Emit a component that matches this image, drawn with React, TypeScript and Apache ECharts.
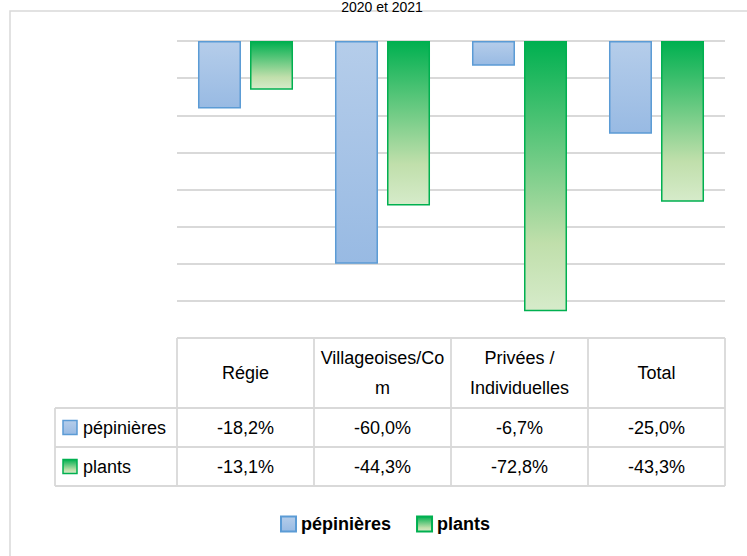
import React, { useEffect, useRef } from "react";
import * as echarts from "echarts";

const categories = ["Régie", "Villageoises/Co\nm", "Privées /\nIndividuelles", "Total"];
const seriesNames = ["pépinières", "plants"];
const pepinieres = [-18.2, -60.0, -6.7, -25.0];
const plants = [-13.1, -44.3, -72.8, -43.3];
const titleText = "2020 et 2021";

const FONT = "'Liberation Sans', Arial, sans-serif";

const GRID_L = 177;
const GRID_R = 725;
const GRID_T = 41;
const TABLE_T = 338;
const ROW1_T = 408;
const ROW2_T = 447;
const TABLE_B = 486;
const LABEL_L = 55;
const LINE = "#d9d9d9";

const blueFill = new echarts.graphic.LinearGradient(0, 0, 0, 1, [
  { offset: 0, color: "#b5cdea" },
  { offset: 1, color: "#98bae3" },
]);
const greenFill = new echarts.graphic.LinearGradient(0, 0, 0, 1, [
  { offset: 0, color: "#00b050" },
  { offset: 0.75, color: "#c0dfab" },
  { offset: 1, color: "#d6ebca" },
]);

const fmt = (v: number) => v.toFixed(1).replace(".", ",") + "%";

export default function App() {
  const ref = useRef<HTMLDivElement>(null);
  useEffect(() => {
    if (!ref.current) return;
    const chart = echarts.init(ref.current, undefined, { renderer: "svg" });
    const colW = (GRID_R - GRID_L) / categories.length;
    const graphics: any[] = [];
    graphics.push({
      type: "rect",
      shape: { x: 10, y: 11, width: 800, height: 600 },
      style: { fill: "none", stroke: LINE, lineWidth: 1.5 },
      silent: true,
    });
    graphics.push({
      type: "text",
      x: 382,
      y: 0,
      style: { text: titleText, fill: "#000", fontSize: 14, fontFamily: FONT, align: "center", verticalAlign: "top" },
    });
    const hl = (x1: number, x2: number, y: number) => ({
      type: "line",
      shape: { x1, y1: y, x2, y2: y },
      style: { stroke: LINE, lineWidth: 1.8 },
      silent: true,
    });
    const vl = (x: number, y1: number, y2: number) => ({
      type: "line",
      shape: { x1: x, y1, x2: x, y2 },
      style: { stroke: LINE, lineWidth: 1.8 },
      silent: true,
    });
    graphics.push(hl(GRID_L, GRID_R, TABLE_T));
    graphics.push(hl(LABEL_L, GRID_R, ROW1_T));
    graphics.push(hl(LABEL_L, GRID_R, ROW2_T));
    graphics.push(hl(LABEL_L, GRID_R, TABLE_B));
    graphics.push(vl(LABEL_L, ROW1_T, TABLE_B));
    for (let i = 0; i <= categories.length; i++) {
      graphics.push(vl(GRID_L + colW * i, TABLE_T, TABLE_B));
    }
    const rows = [pepinieres, plants];
    const fills = [blueFill, greenFill];
    const borders = ["#5b9bd5", "#00b050"];
    const rowTops = [ROW1_T, ROW2_T];
    rows.forEach((vals, r) => {
      const cy = (rowTops[r] + (r === 0 ? ROW2_T : TABLE_B)) / 2;
      graphics.push({
        type: "rect",
        shape: { x: 63, y: cy - 7, width: 14, height: 14 },
        style: { fill: fills[r], stroke: borders[r], lineWidth: 1.5 },
      });
      graphics.push({
        type: "text",
        x: 83,
        y: cy,
        style: { text: seriesNames[r], fill: "#000", fontSize: 18, fontFamily: FONT, align: "left", verticalAlign: "middle" },
      });
      vals.forEach((v, i) => {
        graphics.push({
          type: "text",
          x: GRID_L + colW * (i + 0.5),
          y: cy,
          style: { text: fmt(v), fill: "#000", fontSize: 18, fontFamily: FONT, align: "center", verticalAlign: "middle" },
        });
      });
    });

    chart.setOption({
      animation: false,
      backgroundColor: "#fff",
      grid: { left: GRID_L, right: 747 - GRID_R, top: GRID_T, bottom: 556 - TABLE_T, containLabel: false },
      xAxis: {
        type: "category",
        data: categories,
        position: "bottom",
        axisLine: { show: false },
        axisTick: { show: false },
        axisLabel: {
          interval: 0,
          margin: 35,
          verticalAlign: "middle",
          color: "#000",
          fontSize: 18,
          lineHeight: 30,
          fontFamily: FONT,
        },
      },
      yAxis: {
        type: "value",
        min: -80,
        max: 0,
        interval: 10,
        axisLabel: { show: false },
        axisLine: { show: false },
        axisTick: { show: false },
        splitLine: { lineStyle: { color: LINE, width: 1.8 } },
      },
      legend: {
        data: seriesNames,
        left: 275,
        top: 510,
        icon: "rect",
        itemWidth: 15,
        itemHeight: 15,
        itemGap: 25,
        textStyle: { fontSize: 18, fontWeight: "bold", color: "#000", fontFamily: FONT },
      },
      series: [
        {
          name: seriesNames[0],
          type: "bar",
          data: pepinieres,
          barWidth: 43,
          barGap: "21%",
          itemStyle: { color: blueFill, borderColor: "#5b9bd5", borderWidth: 1.5 },
        },
        {
          name: seriesNames[1],
          type: "bar",
          data: plants,
          barWidth: 43,
          barGap: "21%",
          itemStyle: { color: greenFill, borderColor: "#00b050", borderWidth: 1.5 },
        },
      ],
      graphic: graphics,
    });
    return () => chart.dispose();
  }, []);
  return (
    <div
      ref={ref}
      style={{ position: "absolute", left: 0, top: 0, width: 747, height: 556 }}
    />
  );
}
